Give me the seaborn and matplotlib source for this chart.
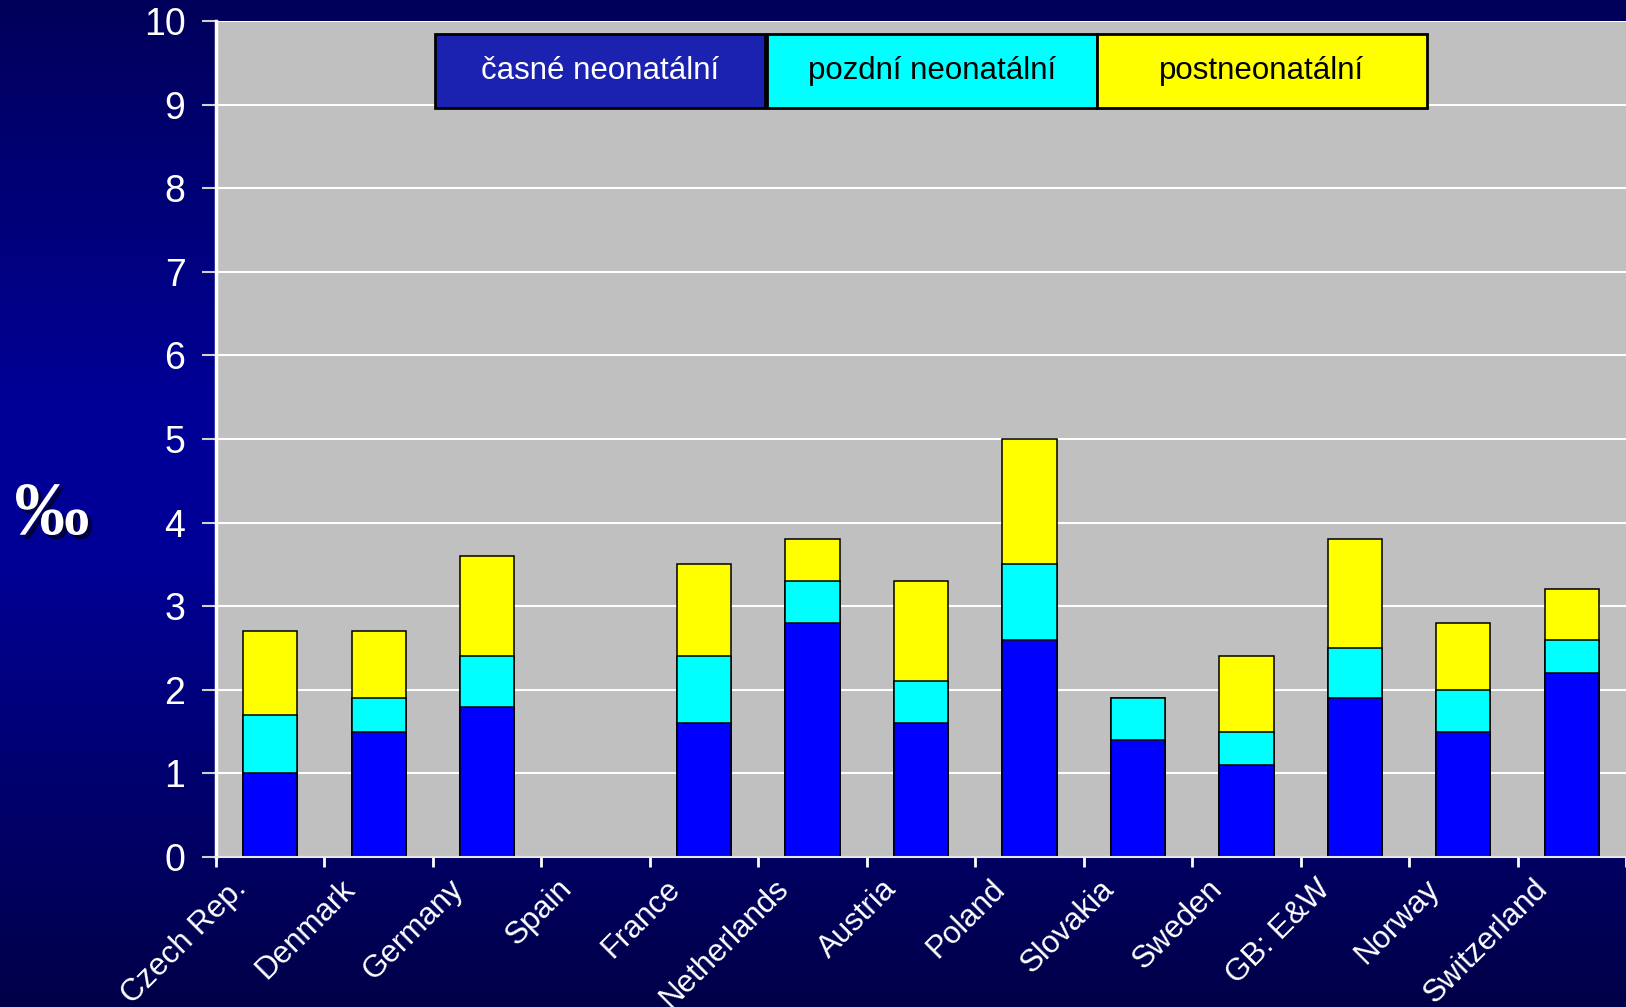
import numpy as np
import pandas as pd
import seaborn as sns
import matplotlib.pyplot as plt
import matplotlib.patheffects as pe
from matplotlib.colors import LinearSegmentedColormap
from matplotlib.patches import Rectangle
from matplotlib.transforms import ScaledTranslation

# data (per mille); Spain has no data
countries = ["Czech Rep.", "Denmark", "Germany", "Spain", "France", "Netherlands",
             "Austria", "Poland", "Slovakia", "Sweden", "GB: E&W", "Norway", "Switzerland"]
early = [1.0, 1.5, 1.8, np.nan, 1.6, 2.8, 1.6, 2.6, 1.4, 1.1, 1.9, 1.5, 2.2]
late = [0.7, 0.4, 0.6, np.nan, 0.8, 0.5, 0.5, 0.9, 0.5, 0.4, 0.6, 0.5, 0.4]
post = [1.0, 0.8, 1.2, np.nan, 1.1, 0.5, 1.2, 1.5, 0.0, 0.9, 1.3, 0.8, 0.6]
series_names = ["časné neonatální", "pozdní neonatální", "postneonatální"]
y_ticks = list(range(0, 11))

bar_colors = ["#0000ff", "#00ffff", "#ffff00"]
legend_colors = ["#1c22b0", "#00ffff", "#ffff00"]
legend_text_colors = ["white", "black", "black"]

plt.rcParams['font.family'] = ['Liberation Sans', 'DejaVu Sans']

df = pd.DataFrame({"country": countries, "early": early, "late": late, "post": post})
df["lvl2"] = df["early"] + df["late"]
df["lvl3"] = df["lvl2"] + df["post"]

W, H = 1626, 1007
fig = plt.figure(figsize=(W / 100, H / 100), dpi=100)

# navy gradient background
bg = fig.add_axes([0, 0, 1, 1], zorder=-10)
cmap = LinearSegmentedColormap.from_list(
    "navy", [(0.0, "#000048"), (0.45, "#000096"), (0.6, "#000096"), (1.0, "#00005a")])
bg.imshow(np.linspace(0, 1, 256).reshape(-1, 1), aspect="auto", cmap=cmap,
          extent=[0, 1, 0, 1], origin="lower")
bg.axis("off")

ax = fig.add_axes([216 / W, 1 - 857 / H, 1 - 216 / W, (857 - 21) / H])
ax.set_facecolor("#c0c0c0")

# stacked bars: draw cumulative totals from top layer down
for col, color in zip(["lvl3", "lvl2", "early"], bar_colors[::-1]):
    sns.barplot(data=df, x="country", y=col, order=countries, color=color,
                saturation=1, width=0.5, edgecolor="black", linewidth=1.1,
                errorbar=None, ax=ax)

ax.set_xlim(-0.5, len(countries) - 0.5)
ax.set_ylim(0, 10)
ax.set_yticks(y_ticks)
ax.set_xlabel("")
ax.set_ylabel("")
ax.set_axisbelow(True)
ax.grid(axis="y", color="white", linewidth=1.5)
ax.grid(axis="x", visible=False)

for side in ["top", "right"]:
    ax.spines[side].set_visible(False)
ax.spines["left"].set_color("white")
ax.spines["left"].set_linewidth(2.5)
ax.spines["bottom"].set_color("#e8e8e8")
ax.spines["bottom"].set_linewidth(1.5)

ax.tick_params(axis="y", length=10, width=1.5, color="#d0d0d0",
               labelsize=27, labelcolor="white", pad=12)

ax.set_xticks(range(len(countries)))
ax.set_xticklabels(countries, rotation=45, ha="right", rotation_mode="anchor",
                   color="white", fontsize=22.5)
ax.tick_params(axis="x", which="major", length=0, pad=12)
ax.set_xticks(np.arange(-0.5, len(countries), 1), minor=True)
ax.tick_params(axis="x", which="minor", length=7, width=2, color="white")
shift = ScaledTranslation(-0.39, 0, fig.dpi_scale_trans)
for lab in ax.get_xticklabels():
    lab.set_transform(lab.get_transform() + shift)

# per-mille axis label
fig.text(52 / W, 1 - 516 / H, "‰", fontsize=54, fontweight="bold",
         family=["Liberation Serif", "DejaVu Serif"], color="white",
         ha="center", va="center",
         path_effects=[pe.withSimplePatchShadow(offset=(3, -3), shadow_rgbFace="black", alpha=0.6)])

# legend drawn as three coloured cells
cell_x = [435, 767, 1097]
cell_w = 330
cell_top, cell_bot = 34, 108
for x0, name, fc, tc in zip(cell_x, series_names, legend_colors, legend_text_colors):
    fig.add_artist(Rectangle((x0 / W, 1 - cell_bot / H), cell_w / W, (cell_bot - cell_top) / H,
                             transform=fig.transFigure, facecolor=fc,
                             edgecolor="black", linewidth=2))
    fig.text((x0 + cell_w / 2) / W, 1 - (cell_top + cell_bot) / 2 / H, name,
             fontsize=22.5, color=tc, ha="center", va="center")

fig.savefig("out.png", dpi=100)
